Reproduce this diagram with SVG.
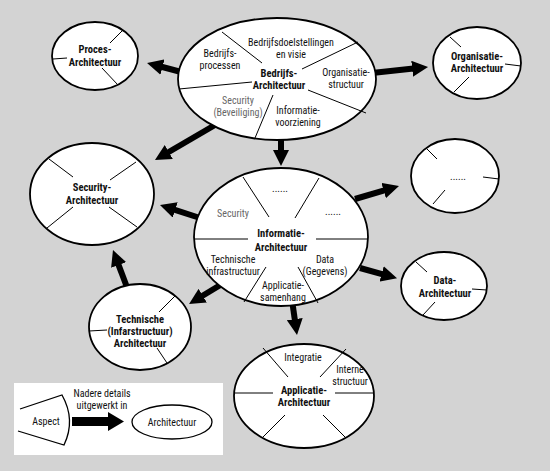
<svg xmlns="http://www.w3.org/2000/svg" width="550" height="471" viewBox="0 0 550 471">
<style>
text{font-family:"Liberation Sans Narrow","Roboto Condensed","DejaVu Sans Condensed","Liberation Sans",sans-serif;font-size:10px;text-anchor:middle;fill:#111}
.b{font-weight:bold;font-size:10.5px}
.g{fill:#666}
.el{fill:#fff;stroke:#000;stroke-width:1.8}
.dv{stroke:#000;stroke-width:1;fill:none}
.ar{stroke:#000;stroke-width:6;fill:none;marker-end:url(#ah)}
</style>
<defs>
<marker id="ah" markerUnits="userSpaceOnUse" viewBox="0 0 16 16" markerWidth="16" markerHeight="16" refX="6" refY="8" orient="auto">
<path d="M0,0 L16,8 L0,16 z" fill="#000"/>
</marker>
</defs>
<rect x="0" y="0" width="550" height="471" fill="#d3d3d3"/>
<g id="connectors">
<line class="ar" x1="185" y1="73" x2="156.7" y2="65.5"/>
<line class="ar" x1="372" y1="73" x2="418.1" y2="68.1"/>
<line class="ar" x1="215" y1="125" x2="163.6" y2="155"/>
<line class="ar" x1="281" y1="135" x2="281" y2="156"/>
<line class="ar" x1="200" y1="218" x2="169.5" y2="208.1"/>
<line class="ar" x1="128" y1="290" x2="116.5" y2="259.4"/>
<line class="ar" x1="355" y1="199" x2="389.4" y2="188.8"/>
<line class="ar" x1="360" y1="268" x2="387.4" y2="275.6"/>
<line class="ar" x1="292" y1="300" x2="295.6" y2="325.1"/>
<line class="ar" x1="222" y1="284" x2="197.6" y2="298.8"/>
</g>
<g id="bedrijfs">
<ellipse class="el" cx="277" cy="79" rx="99" ry="61"/>
<path class="dv" d="M222,32 L262,63 M302,69 L358,42 M179,89 L252,82 M308,90 L366,113 M273,95 L255,138"/>
<text x="291" y="46">Bedrijfsdoelstellingen</text>
<text x="291" y="58">en visie</text>
<text x="220" y="57">Bedrijfs-</text>
<text x="220" y="69">processen</text>
<text class="b" x="279" y="77">Bedrijfs-</text>
<text class="b" x="279" y="89">Architectuur</text>
<text x="346" y="76">Organisatie-</text>
<text x="346" y="88">structuur</text>
<text class="g" x="238" y="104">Security</text>
<text class="g" x="238" y="116">(Beveiliging)</text>
<text x="298" y="114">Informatie-</text>
<text x="298" y="126">voorziening</text>
</g>
<g id="proces">
<ellipse class="el" cx="95" cy="56" rx="43" ry="34"/>
<path class="dv" d="M110,43 L123,30 M53,59 L67,58 M102,68 L118,85"/>
<text class="b" x="95" y="53">Proces-</text>
<text class="b" x="95" y="66">Architectuur</text>
</g>
<g id="organisatie">
<ellipse class="el" cx="477" cy="63" rx="44" ry="36"/>
<path class="dv" d="M450,37 L461,47 M505,64 L521,66 M469,77 L454,92"/>
<text class="b" x="477" y="60">Organisatie-</text>
<text class="b" x="477" y="72">Architectuur</text>
</g>
<g id="security">
<ellipse class="el" cx="92" cy="194" rx="62" ry="51"/>
<path class="dv" d="M49,159 L73,177 M136,162 L110,180 M73,207 L47,228 M109,207 L137,227"/>
<text class="b" x="92" y="191">Security-</text>
<text class="b" x="92" y="204">Architectuur</text>
</g>
<g id="informatie">
<ellipse class="el" cx="281" cy="237" rx="87" ry="69"/>
<path class="dv" d="M243,177 L269,217 M319,178 L295,218 M194,239 L248,239 M316,239 L368,239 M266,267 L244,302 M298,267 L318,303"/>
<text x="280" y="192">......</text>
<text x="333" y="215">......</text>
<text class="g" x="233" y="217">Security</text>
<text class="b" x="281" y="237">Informatie-</text>
<text class="b" x="281" y="251">Architectuur</text>
<text x="233" y="263">Technische</text>
<text x="233" y="275">infrastructuur</text>
<text x="325" y="263">Data</text>
<text x="325" y="275">(Gegevens)</text>
<text x="283" y="289">Applicatie-</text>
<text x="283" y="301">samenhang</text>
</g>
<g id="dots">
<ellipse class="el" cx="455" cy="176" rx="44" ry="37"/>
<path class="dv" d="M427,149 L437,159 M483,177 L499,179 M445,190 L433,204"/>
<text x="458" y="180">......</text>
</g>
<g id="data">
<ellipse class="el" cx="444" cy="286" rx="43" ry="34"/>
<path class="dv" d="M416,262 L427,272 M472,289 L487,290 M435,302 L423,315"/>
<text class="b" x="445" y="284">Data-</text>
<text class="b" x="445" y="297">Architectuur</text>
</g>
<g id="technische">
<ellipse class="el" cx="140" cy="327" rx="51" ry="43"/>
<path class="dv" d="M159,312 L175,296 M89,331 L107,330 M157,348 L167,363"/>
<text class="b" x="140" y="323">Technische</text>
<text class="b" x="140" y="335">(Infarstructuur)</text>
<text class="b" x="140" y="347">Architectuur</text>
</g>
<g id="applicatie">
<ellipse class="el" cx="304" cy="396" rx="70" ry="52"/>
<path class="dv" d="M263,348 L288,377 M346,349 L320,377 M234,393 L273,393 M335,393 L374,393 M285,415 L263,437 M323,415 L345,437"/>
<text x="303" y="361">Integratie</text>
<text x="350" y="373">Interne</text>
<text x="350" y="385">structuur</text>
<text class="b" x="304" y="394">Applicatie-</text>
<text class="b" x="304" y="406">Architectuur</text>
</g>
<g id="legend">
<rect x="14" y="383" width="209" height="72" fill="#fff"/>
<path d="M20,409 L62,395 Q76,420 64,445 L18,431" fill="#fff" stroke="#000" stroke-width="1.3"/>
<text x="46" y="425">Aspect</text>
<path d="M72,417 L108,417 L108,412 L124,421.5 L108,431 L108,426 L72,426 z" fill="#000"/>
<text x="102" y="397">Nadere details</text>
<text x="102" y="409">uitgewerkt in</text>
<ellipse cx="172" cy="422" rx="40" ry="17" fill="#fff" stroke="#000" stroke-width="1.3"/>
<text x="172" y="426">Architectuur</text>
</g>
</svg>
